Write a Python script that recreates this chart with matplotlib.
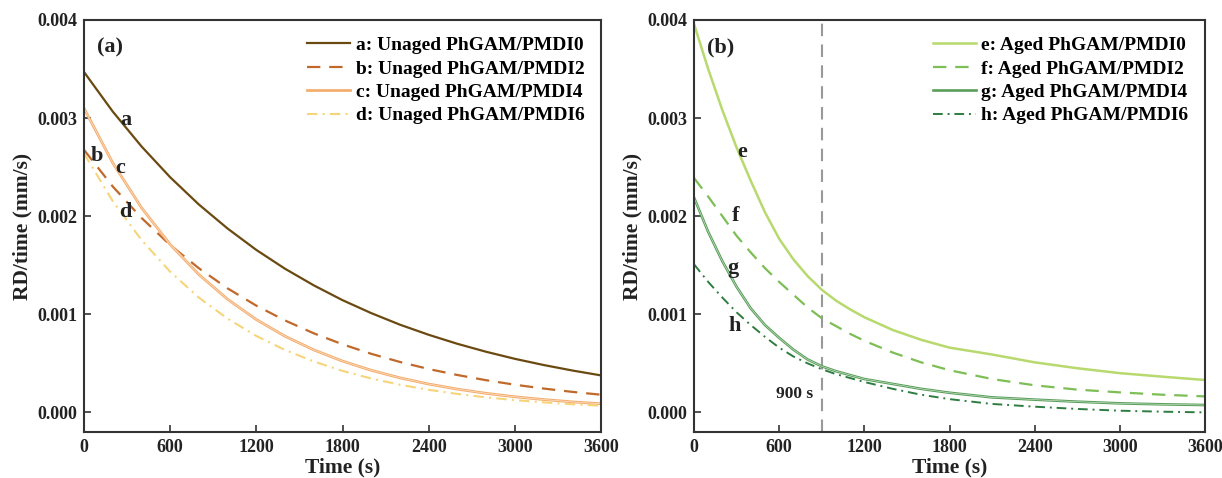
import matplotlib
matplotlib.use("Agg")
import matplotlib.pyplot as plt

# ---------------- data ----------------
t_left = [0, 200, 400, 600, 800, 1000, 1200, 1400, 1600, 1800, 2000, 2200, 2400,
          2600, 2800, 3000, 3200, 3400, 3600]
a_vals = [0.003470, 0.003067, 0.002712, 0.002397, 0.002119, 0.001874, 0.001656, 0.001464,
          0.001295, 0.001144, 0.001012, 0.000894, 0.000791, 0.000699, 0.000618, 0.000546,
          0.000483, 0.000427, 0.000377]
b_vals = [0.002676, 0.002303, 0.001983, 0.001706, 0.001469, 0.001264, 0.001088, 0.000937,
          0.000806, 0.000694, 0.000597, 0.000514, 0.000442, 0.000381, 0.000328, 0.000282,
          0.000243, 0.000209, 0.000180]
c_vals = [0.003100, 0.002544, 0.002087, 0.001712, 0.001405, 0.001153, 0.000946, 0.000776,
          0.000637, 0.000523, 0.000429, 0.000352, 0.000289, 0.000237, 0.000194, 0.000159,
          0.000131, 0.000107, 0.000088]
d_vals = [0.002640, 0.002154, 0.001758, 0.001434, 0.001170, 0.000955, 0.000779, 0.000636,
          0.000519, 0.000423, 0.000345, 0.000282, 0.000230, 0.000188, 0.000153, 0.000125,
          0.000102, 0.000083, 0.000068]

t_right = [0, 100, 200, 300, 400, 500, 600, 700, 800, 900, 1000, 1100, 1200, 1400, 1600,
           1800, 2100, 2400, 2700, 3000, 3300, 3600]
e_vals = [0.00396, 0.00350, 0.00308, 0.00270, 0.00236, 0.00204, 0.00177, 0.00156, 0.00139,
          0.00125, 0.00114, 0.00105, 0.00097, 0.00084, 0.00074, 0.00066, 0.00059, 0.00051,
          0.00045, 0.00040, 0.000364, 0.00033]
f_vals = [0.00239, 0.00220, 0.00200, 0.00180, 0.00163, 0.00147, 0.00133, 0.00120, 0.00107,
          0.00096, 0.00088, 0.00080, 0.00073, 0.00061, 0.00051, 0.00043, 0.00034, 0.000276,
          0.000232, 0.000204, 0.00018, 0.000163]
g_vals = [0.00219, 0.00184, 0.00154, 0.00128, 0.00106, 0.00089, 0.00076, 0.00064, 0.00054,
          0.00047, 0.00042, 0.00038, 0.00034, 0.00029, 0.00024, 0.00020, 0.000153, 0.00013,
          0.000109, 0.000092, 0.000082, 0.000075]
h_vals = [0.00151, 0.00133, 0.00117, 0.00102, 0.00089, 0.00077, 0.00066, 0.00057, 0.00050,
          0.00044, 0.00039, 0.00035, 0.00031, 0.00024, 0.00018, 0.000135, 0.000086, 0.000058,
          0.000035, 0.000017, 0.000007, 0.0]

left_labels = ["a: Unaged PhGAM/PMDI0", "b: Unaged PhGAM/PMDI2",
               "c: Unaged PhGAM/PMDI4", "d: Unaged PhGAM/PMDI6"]
right_labels = ["e: Aged PhGAM/PMDI0", "f: Aged PhGAM/PMDI2",
                "g: Aged PhGAM/PMDI4", "h: Aged PhGAM/PMDI6"]
x_ticks = [0, 600, 1200, 1800, 2400, 3000, 3600]
y_ticks = [0.000, 0.001, 0.002, 0.003, 0.004]
marker_time = 900

# ---------------- style ----------------
plt.rcParams['font.family'] = ['Liberation Serif', 'DejaVu Serif']
plt.rcParams['font.weight'] = 'bold'
plt.rcParams['axes.labelweight'] = 'bold'

fig = plt.figure(figsize=(12.22, 4.78), dpi=100)
axL = fig.add_axes([84/1222, 46/478, 517/1222, 412/478])
axR = fig.add_axes([694/1222, 46/478, 511/1222, 412/478])

spine_col = '#333333'
txt_col = '#222222'

def style_axes(ax):
    ax.set_xlim(0, 3600)
    ax.set_ylim(-0.0002, 0.004)
    ax.set_xticks(x_ticks)
    ax.set_yticks(y_ticks)
    ax.set_yticklabels([f"{v:.3f}" for v in y_ticks])
    ax.tick_params(direction='in', length=5, width=1.2, colors=spine_col,
                   labelsize=13, labelcolor=txt_col, top=False, right=False, pad=5)
    for lab in ax.get_xticklabels() + ax.get_yticklabels():
        lab.set_fontweight('bold')
    for s in ax.spines.values():
        s.set_linewidth(1.5)
        s.set_color(spine_col)
    ax.set_xlabel("Time (s)", fontsize=15.5, fontweight='bold', labelpad=1, color=txt_col)
    ax.set_ylabel("RD/time (mm/s)", fontsize=15.5, fontweight='bold', labelpad=3, color=txt_col)

leg_kw = dict(loc='upper right', frameon=False, handlelength=2.2, handletextpad=0.3,
              labelspacing=0.3, borderaxespad=0.45, prop={'weight': 'bold', 'size': 14})

# left panel
axL.plot(t_left, a_vals, color='#6B4A12', lw=1.6, ls='-', label=left_labels[0])
axL.plot(t_left, b_vals, color='#C0692A', lw=1.6, ls=(0, (6, 4)), label=left_labels[1])
axL.plot(t_left, c_vals, color='#F4AE70', lw=2.0, ls='-', label=left_labels[2])
axL.plot(t_left, c_vals, color='#FCE2C8', lw=0.5, ls='-')
axL.plot(t_left, d_vals, color='#F6D57A', lw=1.5, ls=(0, (5, 2.5, 1, 2.5)), label=left_labels[3])
style_axes(axL)
axL.legend(**leg_kw)
axL.text(0.025, 0.934, "(a)", transform=axL.transAxes, fontsize=16, fontweight='bold',
         va='center', ha='left', color=txt_col)
for txt, tx, ty in [("a", 292, 0.00298), ("b", 91, 0.00261), ("c", 251, 0.00249), ("d", 286, 0.00204)]:
    axL.text(tx, ty, txt, fontsize=16, fontweight='bold', ha='center', va='center', color=txt_col)

# right panel
axR.axvline(marker_time, color='#999999', lw=1.5, ls=(0, (6, 4)))
axR.plot(t_right, e_vals, color='#B8D96E', lw=1.8, ls='-', label=right_labels[0])
axR.plot(t_right, f_vals, color='#7DBE55', lw=1.6, ls=(0, (6, 4)), label=right_labels[1])
axR.plot(t_right, g_vals, color='#5A9E5A', lw=1.9, ls='-', label=right_labels[2])
axR.plot(t_right, g_vals, color='#CFE6CF', lw=0.45, ls='-')
axR.plot(t_right, h_vals, color='#2E7D40', lw=1.4, ls=(0, (5, 2.5, 1, 2.5)), label=right_labels[3])
style_axes(axR)
axR.legend(**leg_kw)
axR.text(0.025, 0.934, "(b)", transform=axR.transAxes, fontsize=16, fontweight='bold',
         va='center', ha='left', color=txt_col)
for txt, tx, ty in [("e", 338, 0.00265), ("f", 296, 0.0020), ("g", 275, 0.00147), ("h", 289, 0.00088)]:
    axR.text(tx, ty, txt, fontsize=16, fontweight='bold', ha='center', va='center', color=txt_col)
axR.text(839, 0.00019, "900 s", fontsize=12.5, fontweight='bold', ha='right', va='center', color=txt_col)

fig.savefig("out.png", dpi=100)
